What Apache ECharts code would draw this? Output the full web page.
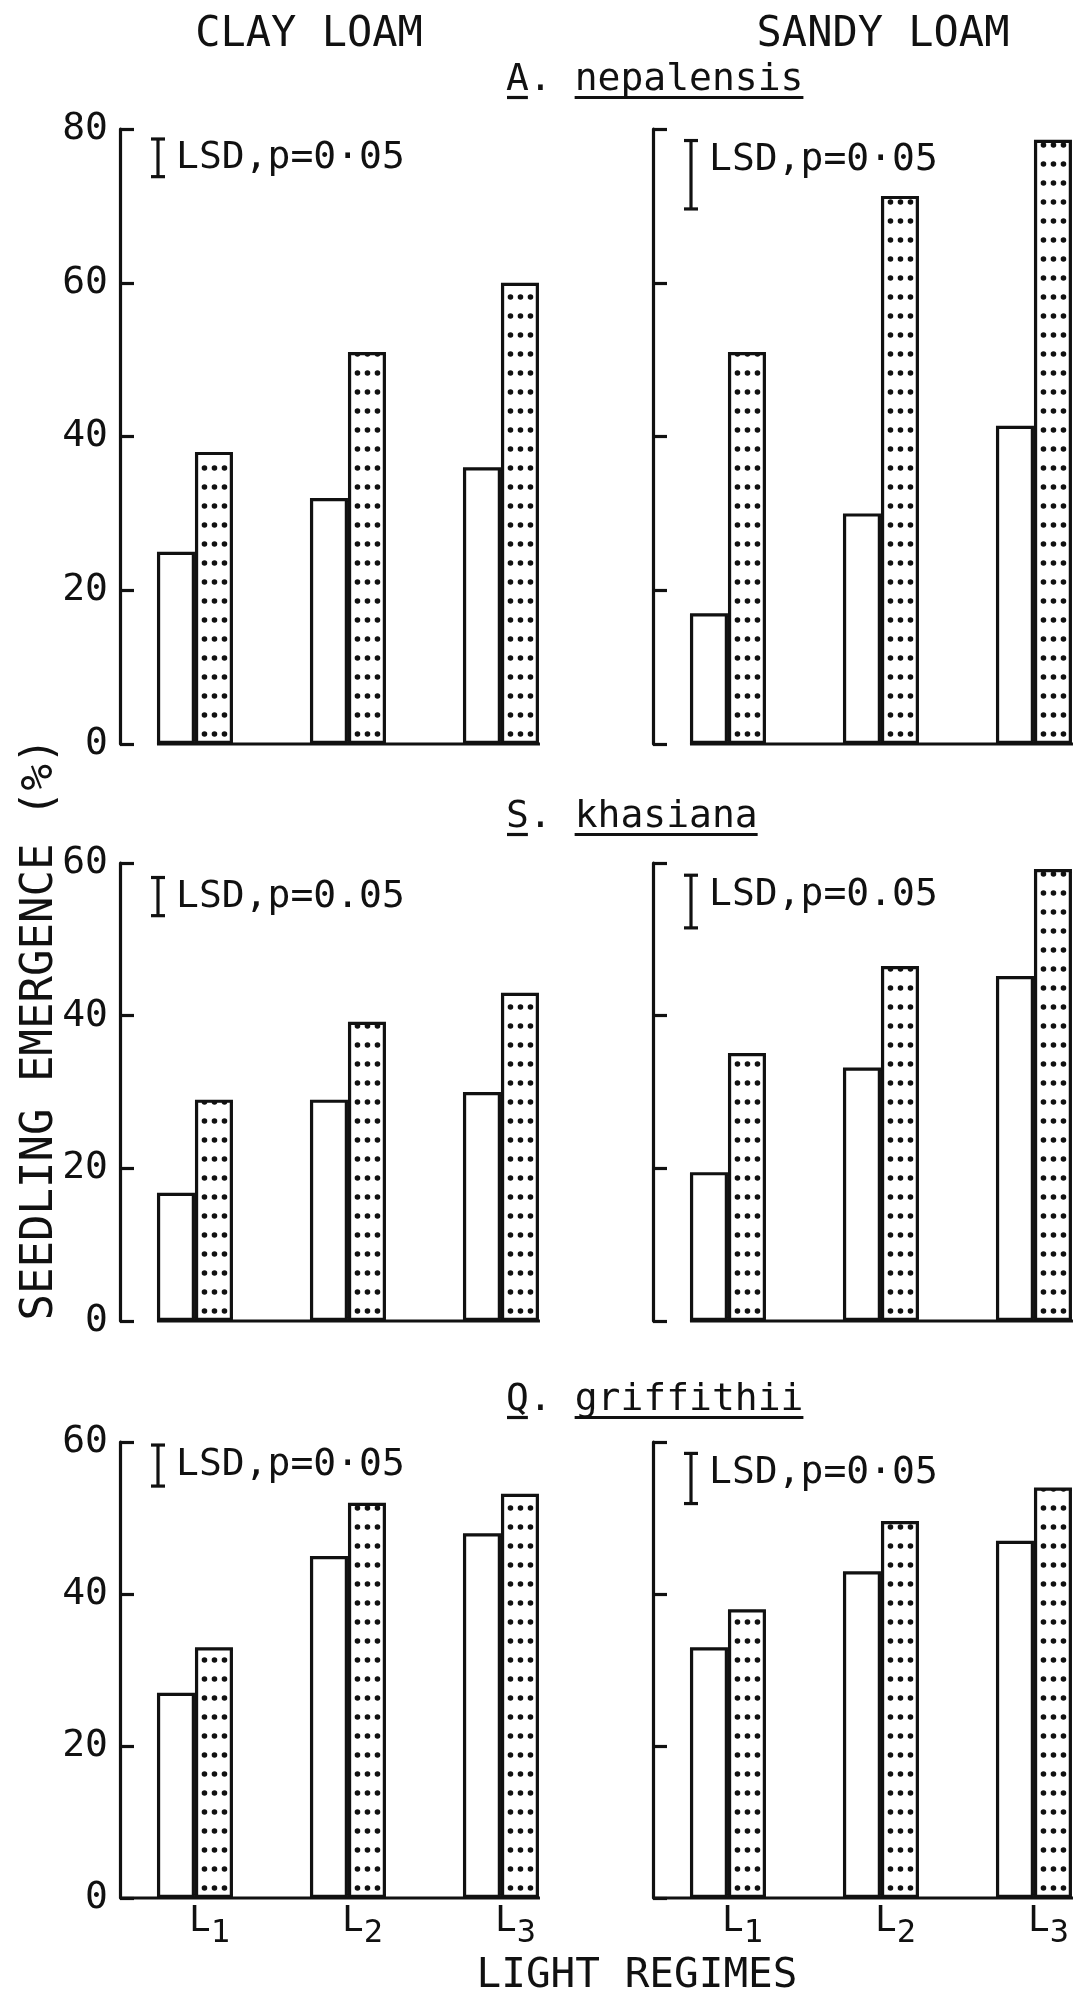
<!DOCTYPE html>
<html>
<head>
<meta charset="utf-8">
<script src="https://cdn.jsdelivr.net/npm/echarts@6/dist/echarts.min.js"></script>
<style>
  html, body { margin: 0; padding: 0; background: #fff; }
  #chart { width: 1079px; height: 1997px; }
</style>
</head>
<body>
<div id="chart"></div>
<script>
// ---- data -------------------------------------------------------------
const regimes = ['L1', 'L2', 'L3'];
const soils = ['CLAY LOAM', 'SANDY LOAM'];
const genusInitials = ['A', 'S', 'Q'];
const epithets = ['nepalensis', 'khasiana', 'griffithii'];
const yMaxBySpecies = [80, 60, 60];

// seedling emergence (%), open bars and stippled bars, L1..L3
const nepalensisClayOpen = [25, 32, 36];
const nepalensisClayDotted = [38, 51, 60];
const nepalensisSandyOpen = [17, 30, 41.4];
const nepalensisSandyDotted = [51, 71.3, 78.6];

const khasianaClayOpen = [16.8, 29, 30];
const khasianaClayDotted = [29, 39.2, 43];
const khasianaSandyOpen = [19.5, 33.2, 45.2];
const khasianaSandyDotted = [35.1, 46.5, 59.2];

const griffithiiClayOpen = [27, 45, 48];
const griffithiiClayDotted = [33, 52, 53.2];
const griffithiiSandyOpen = [33, 43, 47];
const griffithiiSandyDotted = [38, 49.6, 54];

// LSD (p = 0.05) bars: upper end and length on the emergence scale
const lsdTop = [78.7, 78.5, 58.1, 58.4, 59.6, 58.5];
const lsdLength = [4.9, 8.9, 5.0, 6.9, 5.4, 6.6];
const lsdLabels = ['LSD,p=0·05', 'LSD,p=0·05', 'LSD,p=0.05', 'LSD,p=0.05', 'LSD,p=0·05', 'LSD,p=0·05'];

// ---- layout / style ---------------------------------------------------
const FONT = '"DejaVu Sans Mono", monospace';
const INK = '#111';
const LW = 3.2;
const BAR_W = 38;
const BAND = 153;             // px per light regime
const X_MIN = -0.49, X_MAX = 2.26;
const GRID_W = BAND * (X_MAX - X_MIN);
const colLeft = [120, 653];
const rowTop = [129, 863, 1442];
const rowHeight = [615, 458, 456];

const openSets = [
  [nepalensisClayOpen, nepalensisSandyOpen],
  [khasianaClayOpen, khasianaSandyOpen],
  [griffithiiClayOpen, griffithiiSandyOpen]
];
const dottedSets = [
  [nepalensisClayDotted, nepalensisSandyDotted],
  [khasianaClayDotted, khasianaSandyDotted],
  [griffithiiClayDotted, griffithiiSandyDotted]
];

// stipple tile aligned with the stippled bars of one panel
function stipple(left, base) {
  const W = BAND, H = 19;
  const c = document.createElement('canvas');
  c.width = W; c.height = H;
  const ctx = c.getContext('2d');
  ctx.fillStyle = INK;
  const mod = (v, m) => ((v % m) + m) % m;
  const y = mod(base - 10, H);
  [9.5, 19.5, 29.5].forEach(dx => {
    const x = mod(left - X_MIN * BAND + dx, W);
    [-W, 0, W].forEach(sx => [-H, 0, H].forEach(sy => {
      ctx.beginPath();
      ctx.arc(x + sx, y + sy, 2.8, 0, Math.PI * 2);
      ctx.fill();
    }));
  });
  return { image: c, repeat: 'repeat' };
}

// text metrics, so that text can be placed by its capital-letter middle
const meas = document.createElement('canvas').getContext('2d');
meas.textBaseline = 'middle';
function capMetrics(size) {
  meas.font = size + 'px ' + FONT;
  const m = meas.measureText('H');
  return { shift: (m.actualBoundingBoxDescent - m.actualBoundingBoxAscent) / 2, base: m.actualBoundingBoxDescent };
}
function textWidth(s, size) {
  meas.font = size + 'px ' + FONT;
  return meas.measureText(s).width;
}
function textEl(text, x, capMid, size, align, extra) {
  const cm = capMetrics(size);
  return Object.assign({
    type: 'text', x: x, y: capMid - cm.shift, silent: true,
    style: { text: text, font: size + 'px ' + FONT, fontSize: size, fontFamily: FONT, fill: INK,
             align: align, textAlign: align, verticalAlign: 'middle', textVerticalAlign: 'middle' }
  }, extra || {});
}

const grid = [], xAxis = [], yAxis = [], series = [];

for (let r = 0; r < 3; r++) {
  for (let c = 0; c < 2; c++) {
    const i = r * 2 + c;
    const left = colLeft[c], top = rowTop[r], h = rowHeight[r];
    const isBottom = r === 2;
    grid.push({ left: left, top: top, width: GRID_W, height: h, containLabel: false });

    xAxis.push({
      gridIndex: i, type: 'value', min: X_MIN, max: X_MAX,
      axisLine: { show: false, onZero: false },
      axisTick: { show: false },
      splitLine: { show: false },
      axisLabel: {
        show: isBottom,
        customValues: [0, 1, 2],
        align: 'left',
        margin: 6,
        formatter: function (v) {
          const k = Math.round(v);
          if (Math.abs(v - k) > 1e-6 || k < 0 || k >= regimes.length) return '';
          const s = regimes[k];
          return '{l|' + s.charAt(0) + '}{s|' + s.slice(1) + '}';
        },
        rich: {
          l: { fontFamily: FONT, fontSize: 36, color: INK, lineHeight: 30, verticalAlign: 'top', padding: [0, 0, 0, -6] },
          s: { fontFamily: FONT, fontSize: 32, color: INK, lineHeight: 28, verticalAlign: 'top', padding: [14, 0, 0, 0] }
        }
      }
    });

    yAxis.push({
      gridIndex: i, type: 'value', min: 0, max: yMaxBySpecies[r], interval: 20,
      axisLine: { show: true, onZero: false, lineStyle: { color: INK, width: LW } },
      axisTick: { show: true, inside: true, length: 14, lineStyle: { color: INK, width: LW } },
      splitLine: { show: false },
      axisLabel: { show: c === 0, color: INK, fontFamily: FONT, fontSize: 38, margin: 12 }
    });

    const open = openSets[r][c], dotted = dottedSets[r][c];
    const common = {
      type: 'bar', xAxisIndex: i, yAxisIndex: i, barWidth: BAR_W, barGap: '0%',
      silent: true, animation: false
    };
    series.push(Object.assign({}, common, {
      name: 'open',
      data: open.map((v, k) => [k, v]),
      itemStyle: { color: '#fff', borderColor: INK, borderWidth: LW }
    }));
    series.push(Object.assign({}, common, {
      name: 'stippled',
      data: dotted.map((v, k) => [k, v]),
      itemStyle: { color: stipple(left, top + h), borderColor: INK, borderWidth: LW }
    }));

    // ground line under the bars
    series.push({
      type: 'custom', xAxisIndex: i, yAxisIndex: i, silent: true, animation: false, z: 5,
      data: [[0, 0, regimes.length - 1]],
      encode: { x: [0, 2], y: 1 },
      renderItem: function (params, api) {
        const a = api.coord([api.value(0), api.value(1)]);
        const b = api.coord([api.value(2), api.value(1)]);
        const x1 = isBottom ? params.coordSys.x : a[0] - BAR_W;
        return {
          type: 'line',
          shape: { x1: x1, y1: a[1], x2: b[0] + BAR_W + 1, y2: a[1] },
          style: { stroke: INK, lineWidth: LW }
        };
      }
    });

    // LSD bar with its label
    const label = lsdLabels[i];
    series.push({
      type: 'custom', xAxisIndex: i, yAxisIndex: i, silent: true, animation: false, z: 5,
      data: [[0, lsdTop[i], lsdTop[i] - lsdLength[i]]],
      encode: { x: 0, y: [1, 2] },
      renderItem: function (params, api) {
        const x = params.coordSys.x + 38;
        const y1 = api.coord([0, api.value(1)])[1];
        const y2 = api.coord([0, api.value(2)])[1];
        const st = { stroke: INK, lineWidth: LW };
        return {
          type: 'group',
          children: [
            { type: 'line', shape: { x1: x, y1: y1, x2: x, y2: y2 }, style: st },
            { type: 'line', shape: { x1: x - 7, y1: y1, x2: x + 7, y2: y1 }, style: st },
            { type: 'line', shape: { x1: x - 7, y1: y2, x2: x + 7, y2: y2 }, style: st },
            textEl(label, x + 18, y1 + 16, 38, 'left')
          ]
        };
      }
    });
  }
}

// ---- headings ---------------------------------------------------------
const graphics = [];
graphics.push(textEl(soils[0], 309, 30, 42, 'center'));
graphics.push(textEl(soils[1], 883, 30, 42, 'center'));

const speciesCapMid = [76, 813, 1396];
const TITLE_SIZE = 38, TITLE_X = 506;
for (let r = 0; r < 3; r++) {
  const full = genusInitials[r] + '. ' + epithets[r];
  graphics.push(textEl(full, TITLE_X, speciesCapMid[r], TITLE_SIZE, 'left'));
  const cm = capMetrics(TITLE_SIZE);
  const uy = speciesCapMid[r] - cm.shift + cm.base + 8;
  const wInit = textWidth(genusInitials[r], TITLE_SIZE);
  const wLead = textWidth(genusInitials[r] + '. ', TITLE_SIZE);
  const wFull = textWidth(full, TITLE_SIZE);
  graphics.push({ type: 'line', silent: true, shape: { x1: TITLE_X + 1, y1: uy, x2: TITLE_X + wInit - 1, y2: uy }, style: { stroke: INK, lineWidth: LW } });
  graphics.push({ type: 'line', silent: true, shape: { x1: TITLE_X + wLead, y1: uy, x2: TITLE_X + wFull, y2: uy }, style: { stroke: INK, lineWidth: LW } });
}

graphics.push(textEl('LIGHT REGIMES', 637, 1972, 41, 'center'));
graphics.push(textEl('SEEDLING EMERGENCE (%)', 0, 0, 44, 'center'));
// rotate the axis title to read upwards
(function () {
  const g = graphics[graphics.length - 1];
  const cm = capMetrics(44);
  g.rotation = Math.PI / 2;
  g.x = 35 - cm.shift;
  g.y = 1029;
})();

const chart = echarts.init(document.getElementById('chart'), null, { renderer: 'canvas' });
chart.setOption({
  animation: false,
  backgroundColor: '#fff',
  grid: grid,
  xAxis: xAxis,
  yAxis: yAxis,
  series: series,
  graphic: { elements: graphics }
});
</script>
</body>
</html>
